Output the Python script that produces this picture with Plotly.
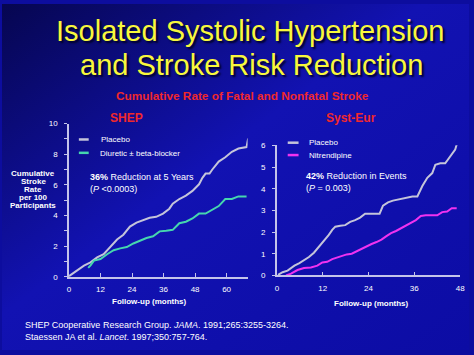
import plotly.graph_objects as go

W, H = 474, 355

# ---------------- data ----------------
shep_placebo_m = [0, 3.1, 5.7, 8.2, 10.7, 13.2, 15.7, 18.3, 20.7, 23.2, 25.7, 28.2, 30.7, 33.2, 35.8,
                  38.2, 39.5, 42, 44.5, 47, 49.5, 50.8, 52, 53.5, 54.5, 57, 59.5, 62, 64.5, 67.6, 68.2]
shep_placebo_v = [0.05, 0.42, 0.74, 0.95, 1.27, 1.48, 1.95, 2.44, 2.75, 3.28, 3.54, 3.71, 3.86, 3.92, 4.13,
                  4.45, 4.77, 5.08, 5.30, 5.61, 6.04, 6.46, 6.74, 6.74, 6.99, 7.52, 7.80, 8.16, 8.37, 8.47, 9.03]

shep_diur_m = [7.3, 8.2, 9.5, 12, 14.5, 17, 19.5, 22, 24.5, 27, 29.5, 32, 34.5, 37, 39.5, 42, 44.5,
               47, 49.5, 52, 54.5, 57, 59.5, 62, 64.5, 67.6]
shep_diur_v = [0.59, 0.75, 1.06, 1.17, 1.48, 1.74, 1.86, 1.95, 2.18, 2.37, 2.54, 2.65, 2.97, 3.01, 3.07, 3.50, 3.60,
               3.81, 4.13, 4.13, 4.39, 4.62, 5.08, 5.08, 5.25, 5.25]

se_placebo_m = [0.3, 1.5, 2.8, 3.7, 4.6, 5.9, 7.1, 8.4, 9.7, 10.6, 11.4, 12.3, 13.6, 14.5, 15.3, 16.6, 17.9,
                19.2, 20.5, 21.8, 23.1, 24.3, 25.6, 26.9, 27.8, 29.1, 30.4, 32.1, 33.8, 35.5, 36.8, 38.1,
                39.4, 40.7, 41.5, 42.8, 44.1, 45.0, 45.8, 46.7, 47.1]
se_placebo_v = [0.03, 0.15, 0.22, 0.34, 0.45, 0.57, 0.70, 0.85, 1.05, 1.24, 1.42, 1.57, 1.87, 2.10, 2.25, 2.29,
                2.32, 2.47, 2.55, 2.67, 2.85, 2.85, 2.85, 2.85, 3.22, 3.37, 3.45, 3.52, 3.60, 3.64, 3.64, 4.12,
                4.50, 4.72, 5.10, 5.17, 5.17, 5.40, 5.62, 5.80, 6.04]

se_nit_m = [2.4, 3.7, 5.4, 7.1, 8.9, 10.6, 11.9, 13.2, 14.5, 15.7, 17.0, 18.3, 19.6, 20.9, 22.2, 23.5,
            24.8, 26.1, 27.4, 28.6, 29.9, 31.2, 32.5, 33.8, 35.1, 36.4, 37.7, 39.0, 40.7, 42.0, 43.3,
            44.6, 45.8, 47.1]
se_nit_v = [0.0, 0.08, 0.25, 0.34, 0.37, 0.45, 0.60, 0.63, 0.75, 0.82, 0.90, 0.97, 1.0, 1.12, 1.24, 1.35,
            1.45, 1.54, 1.65, 1.80, 1.95, 2.05, 2.17, 2.29, 2.44, 2.55, 2.74, 2.77, 2.77, 2.77, 2.92,
            2.95, 3.10, 3.10]

shep_xticks = [0, 12, 24, 36, 48, 60]
shep_yticks = list(range(0, 11))
shep_ylabels = [str(v) if v % 2 == 0 else "" for v in shep_yticks]
se_xticks = [0, 12, 24, 36, 48]
se_yticks = [0, 1, 2, 3, 4, 5, 6]

C_PLAC = "#c4c4da"
C_DIUR = "#46d6ae"
C_NIT = "#f032f0"
C_AX = "#c4c4ea"
C_RED = "#f0282c"
C_YEL = "#f8f83c"
FONT = "Liberation Sans, Arial, sans-serif"


def px(x):
    return x / W


def py(y):
    return 1 - y / H


fig = go.Figure()
fig.add_trace(go.Scatter(x=shep_placebo_m, y=shep_placebo_v, mode="lines",
                         line=dict(color=C_PLAC, width=2), xaxis="x", yaxis="y", cliponaxis=False))
fig.add_trace(go.Scatter(x=shep_diur_m, y=shep_diur_v, mode="lines",
                         line=dict(color=C_DIUR, width=2), xaxis="x", yaxis="y", cliponaxis=False))
fig.add_trace(go.Scatter(x=se_placebo_m, y=se_placebo_v, mode="lines",
                         line=dict(color=C_PLAC, width=2), xaxis="x2", yaxis="y2", cliponaxis=False))
fig.add_trace(go.Scatter(x=se_nit_m, y=se_nit_v, mode="lines",
                         line=dict(color=C_NIT, width=2), xaxis="x2", yaxis="y2", cliponaxis=False))

axis_common = dict(showgrid=False, zeroline=False, showline=True, linecolor=C_AX, linewidth=1.5,
                   tickcolor=C_AX, tickwidth=1.2, tickfont=dict(size=8, color="white", family=FONT),
                   fixedrange=True)

fig.update_layout(
    width=W, height=H,
    margin=dict(l=0, r=0, t=0, b=0),
    paper_bgcolor="#0d0d9e",
    plot_bgcolor="rgba(0,0,0,0)",
    showlegend=False,
    font=dict(family=FONT, color="white"),
    xaxis=dict(domain=[px(68), px(249.3)], range=[0, 68], tickvals=shep_xticks, ticks="inside",
               ticklen=4, anchor="y", ticklabelstandoff=4, **axis_common),
    yaxis=dict(domain=[py(280), py(122.7)], range=[0, 10], tickvals=shep_yticks, ticktext=shep_ylabels,
               ticks="outside", ticklen=3, anchor="x", ticklabelstandoff=5, **axis_common),
    xaxis2=dict(domain=[px(279), px(465)], range=[0, 48], tickvals=se_xticks, ticks="inside",
                ticklen=4, anchor="y2", ticklabelstandoff=4, **axis_common),
    yaxis2=dict(domain=[py(278.5), py(145)], range=[0, 6], tickvals=se_yticks,
                ticks="outside", ticklen=3, anchor="x2", ticklabelstandoff=5, **axis_common),
)

# gradient background
svg = ("data:image/svg+xml;utf8,<svg xmlns='http://www.w3.org/2000/svg' width='474' height='355'>"
       "<defs><linearGradient id='g' x1='0' y1='0' x2='1' y2='1'>"
       "<stop offset='0' stop-color='%23060650'/><stop offset='0.45' stop-color='%231212b2'/>"
       "<stop offset='1' stop-color='%230c0ca4'/></linearGradient></defs>"
       "<rect width='474' height='355' fill='url(%23g)'/></svg>")
fig.add_layout_image(dict(source=svg, xref="paper", yref="paper", x=0, y=1, sizex=1, sizey=1,
                          xanchor="left", yanchor="top", sizing="stretch", layer="below"))

ann = []


def text(x, y, s, size, color="white", bold=False, xanchor="center", shadow=None):
    f = dict(size=size, color=color, family=FONT)
    if bold:
        f["weight"] = "bold"
    if shadow:
        f["shadow"] = shadow
    ann.append(dict(x=px(x), y=py(y), xref="paper", yref="paper", text=s, showarrow=False,
                    xanchor=xanchor, yanchor="middle", font=f, align="left" if xanchor == "left" else "center"))


text(252, 28, "Isolated Systolic Hypertension", 29, C_YEL, shadow="2px 2px 2px #000028")
text(253, 63, "and Stroke Risk Reduction", 29, C_YEL, shadow="2px 2px 2px #000028")
text(244, 94, "Cumulative Rate of Fatal and Nonfatal Stroke", 11.8, C_RED, bold=True)
text(126.5, 117, "SHEP", 12, C_RED, bold=True)
text(354, 117, "Syst-Eur", 12, C_RED, bold=True)

for i, s in enumerate(["Cumulative", "Stroke", "Rate", "per 100", "Participants"]):
    text(31.7, 174 + i * 8.2, s, 8, bold=True)

text(149.6, 305, "Follow-up (months)", 8, bold=True)
text(375, 307, "Follow-up (months)", 8, bold=True)

text(98, 139.5, "Placebo", 8, xanchor="left")
text(97.7, 153, "Diuretic ± beta-blocker", 8, xanchor="left")
text(310, 142.3, "Placebo", 8, xanchor="left")
text(310, 155, "Nitrendipine", 8, xanchor="left")

text(87, 183.5, "<b>36%</b> Reduction at 5 Years<br>(<i>P</i> &lt;0.0003)", 9, xanchor="left")
text(307, 182.5, "<b>42%</b> Reduction in Events<br>(<i>P</i> = 0.003)", 9, xanchor="left")

text(21, 335, "SHEP Cooperative Research Group. <i>JAMA</i>. 1991;265:3255-3264.<br>"
     "Staessen JA et al. <i>Lancet</i>. 1997;350:757-764.", 9, xanchor="left")

fig.update_layout(annotations=ann)

shapes = []
for (x0, x1, y, c) in [(78, 88, 139, C_PLAC), (78, 88, 152.7, C_DIUR), (290, 301, 142.3, C_PLAC), (290, 301, 155, C_NIT)]:
    shapes.append(dict(type="line", xref="paper", yref="paper", x0=px(x0), x1=px(x1), y0=py(y), y1=py(y),
                       line=dict(color=c, width=2.5)))
fig.update_layout(shapes=shapes)

fig.write_html("out.html", config={"displayModeBar": False},
               post_script="document.body.style.margin='0';document.body.style.overflow='hidden';")
